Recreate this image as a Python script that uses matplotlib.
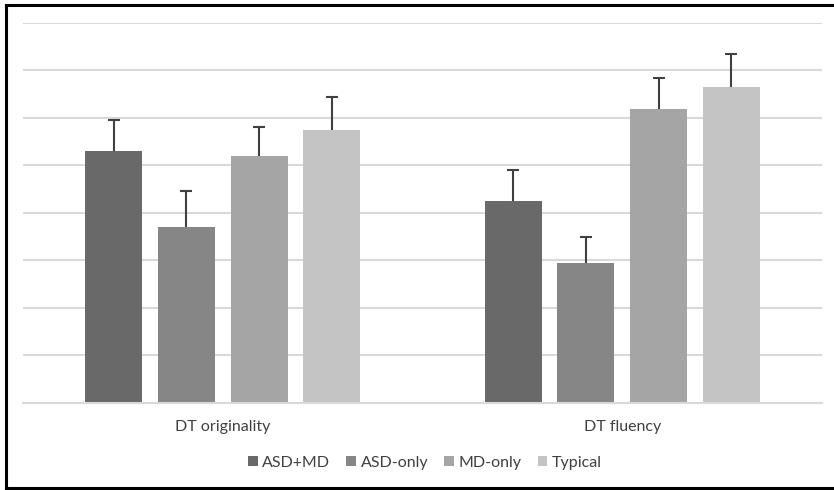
import matplotlib.pyplot as plt
import numpy as np
from matplotlib.lines import Line2D

# Daten (Einheiten = Gitterlinien)
categories = ["DT originality", "DT fluency"]
groups = ["ASD+MD", "ASD-only", "MD-only", "Typical"]
means = {
    "ASD+MD": [5.29, 4.24],
    "ASD-only": [3.70, 2.95],
    "MD-only": [5.19, 6.19],
    "Typical": [5.75, 6.65],
}
errors = {
    "ASD+MD": [0.66, 0.66],
    "ASD-only": [0.75, 0.54],
    "MD-only": [0.61, 0.65],
    "Typical": [0.69, 0.69],
}
colours = ["#696969", "#868686", "#a5a5a5", "#c4c4c4"]

plt.rcParams['font.family'] = ['Lato', 'DejaVu Sans']

fig = plt.figure(figsize=(8.34, 4.9), dpi=100)
ax = fig.add_axes([23 / 834, (490 - 402.7) / 490, 799 / 834, 380 / 490])

x = np.arange(len(categories))
width = 0.1427
step = 0.1815
for i, g in enumerate(groups):
    pos = x + (i - 1.5) * step
    ax.bar(pos, means[g], width, color=colours[i], label=g, zorder=2)
    eb = ax.errorbar(pos, means[g], yerr=[[0] * len(categories), errors[g]], fmt='none',
                     ecolor="#404040", elinewidth=1.5, capsize=4, capthick=1.5, zorder=3)
    # nur obere Kappe zeigen
    for cap in eb[1]:
        if np.allclose(cap.get_ydata(), means[g]):
            cap.set_visible(False)

ax.set_xlim(-0.5, 1.5)
ax.set_ylim(0, 8)
ax.set_yticks(np.arange(0, 9, 1))
ax.yaxis.grid(True, color="#d9d9d9", linewidth=1.5, zorder=0)
ax.tick_params(axis='y', left=False, labelleft=False)
ax.tick_params(axis='x', bottom=False, labelsize=11.5, colors="#404040", pad=9)
ax.set_xticks(x)
ax.set_xticklabels(categories)
for s in ["top", "right", "left"]:
    ax.spines[s].set_visible(False)
ax.spines["bottom"].set_color("#d9d9d9")
ax.spines["bottom"].set_linewidth(1.5)

leg = fig.legend(loc="center", bbox_to_anchor=(425 / 834, 1 - 463 / 490), ncol=4,
                 frameon=False, fontsize=11.5, handlelength=0.6, handleheight=0.6,
                 handletextpad=0.3, columnspacing=1.0)
for t in leg.get_texts():
    t.set_color("#404040")

# Rahmen links, oben, unten (rechts abgeschnitten)
x0, y0, y1 = 6 / 834, 1 - 488 / 490, 1 - 5 / 490
for xs, ys in [([x0, x0], [y0, y1]), ([x0, 1.01], [y1, y1]), ([x0, 1.01], [y0, y0])]:
    fig.add_artist(Line2D(xs, ys, transform=fig.transFigure, color="black", linewidth=2.2))

plt.savefig("out.png", dpi=100)
plt.close()
